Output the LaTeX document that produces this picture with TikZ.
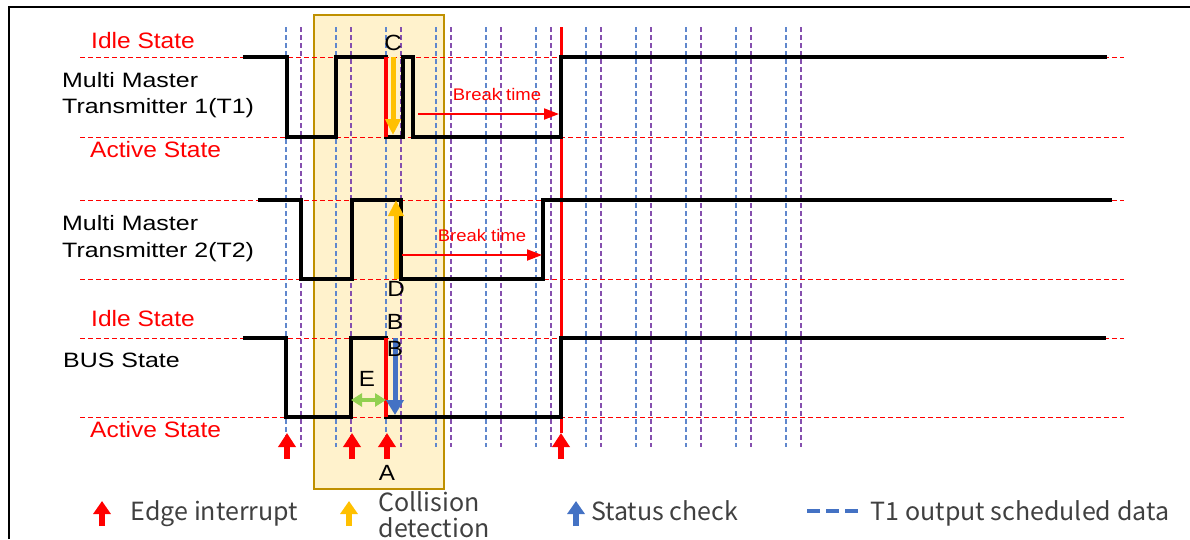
\documentclass[tikz,border=0pt]{standalone}
\usepackage{fontspec}
\setmainfont{Liberation Sans}
\newfontfamily\blkfont{Liberation Sans}[FakeStretch=1.2]
\newfontfamily\redfont{Liberation Sans}[FakeStretch=1.1]
\newfontfamily\legfont{Noto Sans CJK JP}
\usetikzlibrary{arrows.meta}
\definecolor{tred}{HTML}{FF0000}
\definecolor{tblue}{HTML}{4472C4}
\definecolor{tpurple}{HTML}{7030A0}
\definecolor{tyellow}{HTML}{FFC000}
\definecolor{tgreen}{HTML}{92D050}
\definecolor{boxfill}{HTML}{FFF2CC}
\definecolor{boxdraw}{HTML}{BF9000}
\definecolor{legtext}{HTML}{404040}
\begin{document}
\begin{tikzpicture}[x=1pt,y=-1pt,
  wave/.style={line width=4pt, line join=miter},
  level/.style={tred, line width=1pt, dash pattern=on 5pt off 3pt},
  vblue/.style={tblue!85, line width=1.3pt, dash pattern=on 4.5pt off 3.5pt},
  vpurp/.style={tpurple!85, line width=1.3pt, dash pattern=on 4.5pt off 3.5pt},
  namelab/.style={font=\blkfont\fontsize{20.8}{25}\selectfont, anchor=base west, inner sep=0pt},
  statelab/.style={font=\redfont\fontsize{22.3}{26}\selectfont, text=tred, anchor=base west, inner sep=0pt},
  letter/.style={font=\redfont\fontsize{22}{26}\selectfont, anchor=base, inner sep=0pt},
  breaklab/.style={font=\redfont\fontsize{16.8}{20}\selectfont, text=tred, anchor=base, inner sep=0pt},
  breakarrow/.style={tred, line width=2pt, -{Triangle[width=11pt,length=15pt]}},
  edgearrow/.style={tred, line width=6pt, -{Triangle[width=17pt,length=14pt]}},
  collarrow/.style={tyellow, line width=5pt, -{Triangle[width=15pt,length=16pt]}},
  statarrow/.style={tblue, line width=5pt, -{Triangle[width=17pt,length=15pt]}},
  legarrow/.style={line width=5.5pt, -{Triangle[width=17pt,length=13pt]}},
  legtxt/.style={font=\legfont\fontsize{25}{30}\selectfont, text=legtext, anchor=base west, inner sep=0pt, align=left}
]
\useasboundingbox (0,0) rectangle (1190,539);
% frame
\draw[line width=2pt] (9,539) -- (9,7) -- (1190,7);
% highlight box
\draw[fill=boxfill, draw=boxdraw, line width=2pt] (314,15) rectangle (444,489);
% scheduled-data grid
\foreach \k in {0,...,10} {
  \draw[vblue] (286+50*\k,27) -- (286+50*\k,447);
  \draw[vpurp] (301+50*\k,27) -- (301+50*\k,447);
}
% state levels
\foreach \y in {57,137,200,279,338,417} {
  \draw[level] (80,\y) -- (1124,\y);
}
% long red marker
\coordinate (rtop) at (561,27);
\coordinate (rbot) at (561,433);
\draw[tred, line width=3pt] (rtop) -- (rbot);
% waveforms
\draw[wave] (243,57) -- (287,57) -- (287,137) -- (336,137) -- (336,57) -- (386,57) -- (386,137)
  -- (403,137) -- (403,57) -- (413,57) -- (413,137) -- (561,137) -- (561,57) -- (1107,57);
\draw[wave] (258,200) -- (301,200) -- (301,279) -- (352,279) -- (352,200) -- (401,200) -- (401,279)
  -- (543,279) -- (543,200) -- (1112,200);
\draw[wave] (243,338) -- (286,338) -- (286,417) -- (351,417) -- (351,338) -- (386,338) -- (386,417)
  -- (561,417) -- (561,338) -- (1106,338);
% red edges at collision
\draw[tred, line width=4pt] (386,57) -- (386,137);
\draw[tred, line width=4pt] (386,338) -- (386,417);
% collision / status arrows
\coordinate (c1) at (393,57); \coordinate (c2) at (393,135);
\draw[collarrow] (c1) -- (c2);
\coordinate (d1) at (396,279); \coordinate (d2) at (396,200);
\draw[collarrow] (d1) -- (d2);
\coordinate (b1) at (395,338); \coordinate (b2) at (395,415);
\draw[statarrow] (b1) -- (b2);
\coordinate (e1) at (351,400); \coordinate (e2) at (386,400);
\draw[tgreen, line width=3.5pt, {Triangle[width=13pt,length=11pt]}-{Triangle[width=13pt,length=11pt]}] (e1) -- (e2);
% break time
\coordinate (bt1a) at (418,114); \coordinate (bt1b) at (559,114);
\draw[breakarrow] (bt1a) -- (bt1b);
\node[breaklab] (bt1) at (497,100) {Break time};
\coordinate (bt2a) at (402,255); \coordinate (bt2b) at (542,255);
\draw[breakarrow] (bt2a) -- (bt2b);
\node[breaklab] (bt2) at (482,241.7) {Break time};
% edge interrupts
\foreach \x/\n in {287/ea,352/eb,387/ec,561/ed} {
  \coordinate (\n s) at (\x,459); \coordinate (\n t) at (\x,433);
  \draw[edgearrow] (\n s) -- (\n t);
}
% letters
\node[letter] (lC) at (393,50) {C};
\node[letter] (lD) at (396,296.7) {D};
\node[letter] (lB1) at (395,329.3) {B};
\node[letter] (lB2) at (395,356.7) {B};
\node[letter] (lE) at (367,386.7) {E};
\node[letter] (lA) at (387,480) {A};
% left labels
\node[statelab] (idle1) at (91,48.3) {Idle State};
\node[namelab] (t1a) at (62,87.3) {Multi Master};
\node[namelab] (t1b) at (62,113.3) {Transmitter 1(T1)};
\node[statelab] (act1) at (90,157.5) {Active State};
\node[namelab] (t2a) at (62,230.7) {Multi Master};
\node[namelab] (t2b) at (62,257.3) {Transmitter 2(T2)};
\node[statelab] (idle2) at (91,326.7) {Idle State};
\node[namelab] (bus) at (63,367.7) {BUS State};
\node[statelab] (act2) at (90,437.5) {Active State};
% legend
\coordinate (la1) at (102,526); \coordinate (la2) at (102,501);
\draw[legarrow, tred] (la1) -- (la2);
\node[legtxt] (l1) at (130.7,520.7) {Edge interrupt};
\coordinate (lb1) at (349,526); \coordinate (lb2) at (349,501);
\draw[legarrow, tyellow] (lb1) -- (lb2);
\node[legtxt] (l2a) at (378.3,511.7) {Collision};
\node[legtxt] (l2b) at (378.3,537.5) {detection};
\coordinate (lc1) at (576,526); \coordinate (lc2) at (576,501);
\draw[legarrow, tblue] (lc1) -- (lc2);
\node[legtxt] (l3) at (591,520.7) {Status check};
\coordinate (ld1) at (807,511); \coordinate (ld2) at (858,511);
\draw[tblue, line width=4.3pt, dash pattern=on 13pt off 6pt] (ld1) -- (ld2);
\node[legtxt] (l4) at (870.7,520.7) {T1 output scheduled data};
\end{tikzpicture}
\end{document}
